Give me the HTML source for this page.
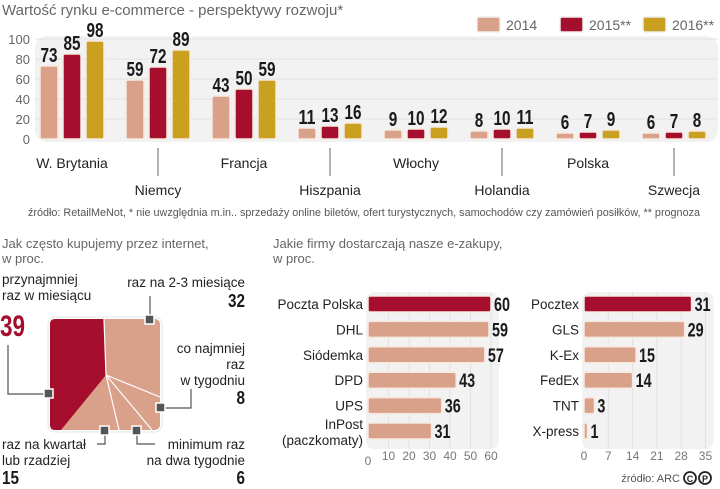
<!DOCTYPE html>
<html><head><meta charset="utf-8">
<style>
html,body{margin:0;padding:0;background:#fff;}
svg{display:block;}
text{font-family:"Liberation Sans",sans-serif;}
.n{font-family:"Liberation Sans Narrow","Liberation Sans",sans-serif;font-weight:bold;fill:#1a1a1a;}
</style></head>
<body>
<svg id="c" width="720" height="489" viewBox="0 0 720 489" xmlns="http://www.w3.org/2000/svg">
<g><text x="2" y="15" font-size="15" fill="#666">Wartość rynku e-commerce - perspektywy rozwoju*</text></g>
<rect x="35" y="36" width="683" height="106" rx="12" fill="#f2f2f2"/>
<g id="topchart"></g>
<g id="legend"></g>
<text x="28" y="216" font-size="11" fill="#555" textLength="672" lengthAdjust="spacingAndGlyphs">źródło: RetailMeNot, * nie uwzględnia m.in.. sprzedaży online biletów, ofert turystycznych, samochodów czy zamówień posiłków, ** prognoza</text>

<text x="2" y="248" font-size="13" fill="#666">Jak często kupujemy przez internet,</text>
<text x="2" y="263" font-size="13" fill="#666">w proc.</text>
<g id="pie">
<rect x="48" y="317" width="114" height="115" rx="7" fill="#fff" stroke="#e6e6e6"/>
<rect x="50" y="319" width="110" height="111" rx="5" fill="#d9a08a"/>
<path d="M55,319 L104,319 L106,375 L61,430 L55,430 Q50,430 50,425 L50,324 Q50,319 55,319Z" fill="#a50f2d"/>
<line x1="104" y1="319" x2="106" y2="375" stroke="#fff" stroke-width="1.2"/>
<line x1="106" y1="375" x2="160" y2="397" stroke="#fff" stroke-width="1.2"/>
<line x1="106" y1="375" x2="152" y2="430" stroke="#fff" stroke-width="1.2"/>
<line x1="106" y1="375" x2="119" y2="430" stroke="#fff" stroke-width="1.2"/>
<g stroke="#555" fill="none" stroke-width="1.2">
<polyline points="150,320 150,296"/>
<polyline points="47,394 8,394 8,345"/>
<polyline points="161,408 191,408 191,389"/>
<polyline points="105,431 105,444 97,444"/>
<polyline points="137,431 137,444 155,444"/>
</g>
<g fill="#555" stroke="#fff" stroke-width="1.5">
<rect x="145" y="315" width="9" height="9"/>
<rect x="44" y="389" width="9" height="9"/>
<rect x="156" y="403" width="9" height="9"/>
<rect x="100" y="426" width="9" height="9"/>
<rect x="132" y="426" width="9" height="9"/>
</g>
<g font-size="13.5" fill="#222">
<text x="2" y="284">przynajmniej</text>
<text x="2" y="300">raz w miesiącu</text>
<text x="0" y="336" class="n" font-size="30" textLength="25" lengthAdjust="spacingAndGlyphs" style="fill:#a50f2d">39</text>
<text x="245" y="287" text-anchor="end">raz na 2-3 miesiące</text>
<text x="245" y="307" text-anchor="end" class="n" font-size="18" textLength="17" lengthAdjust="spacingAndGlyphs">32</text>
<text x="245" y="353" text-anchor="end">co najmniej</text>
<text x="245" y="369" text-anchor="end">raz</text>
<text x="245" y="385" text-anchor="end">w tygodniu</text>
<text x="245" y="404" text-anchor="end" class="n" font-size="18" textLength="8.5" lengthAdjust="spacingAndGlyphs">8</text>
<text x="2" y="449">raz na kwartał</text>
<text x="2" y="465">lub rzadziej</text>
<text x="2" y="484" class="n" font-size="18" textLength="17" lengthAdjust="spacingAndGlyphs">15</text>
<text x="245" y="449" text-anchor="end">minimum raz</text>
<text x="245" y="465" text-anchor="end">na dwa tygodnie</text>
<text x="245" y="484" text-anchor="end" class="n" font-size="18" textLength="8.5" lengthAdjust="spacingAndGlyphs">6</text>
</g>
</g>

<text x="273" y="248" font-size="13" fill="#666">Jakie firmy dostarczają nasze e-zakupy,</text>
<text x="273" y="263" font-size="13" fill="#666">w proc.</text>
<g id="bl"></g>
<g id="br"></g>
<text x="680" y="482" font-size="11" fill="#555" text-anchor="end">źródło: ARC</text>
<g stroke="#222" stroke-width="1.8" fill="none">
<circle cx="690" cy="478" r="6"/><circle cx="705" cy="478" r="6"/>
</g>
<text x="690" y="482" font-size="9" font-weight="bold" text-anchor="middle" fill="#222">C</text>
<text x="705" y="482" font-size="9" font-weight="bold" text-anchor="middle" fill="#222">P</text>
</svg>
<script>
const countries=["W. Brytania","Niemcy","Francja","Hiszpania","Włochy","Holandia","Polska","Szwecja"];
const v2014=[73,59,43,11,9,8,6,6];
const v2015=[85,72,50,13,10,10,7,7];
const v2016=[98,89,59,16,12,11,9,8];
const years=["2014","2015**","2016**"];
const yTicks=[0,20,40,60,80,100];
const firmsL=["Poczta Polska","DHL","Siódemka","DPD","UPS","InPost"];
const valsL=[60,59,57,43,36,31];
const ticksL=[0,10,20,30,40,50,60];
const firmsR=["Pocztex","GLS","K-Ex","FedEx","TNT","X-press"];
const valsR=[31,29,15,14,3,1];
const ticksR=[0,7,14,21,28,35];

const NS="http://www.w3.org/2000/svg";
const cols=["#d9a08a","#a50f2d","#c9a020"];
function mk(p,tag,a,txt){const e=document.createElementNS(NS,tag);for(const k in a)e.setAttribute(k,a[k]);if(txt!==undefined)e.textContent=txt;p.appendChild(e);return e;}
const topG=document.getElementById('topchart');
const yS=v=>139-v*1.0;
const gx=i=>72+i*86;
yTicks.forEach(t=>{
  if(t>0){const l=mk(topG,'line',{x1:35,x2:718,y1:yS(t),y2:yS(t),stroke:'#e2e2e2','stroke-width':1});
  
  }
  const tx=mk(topG,'text',{x:30,y:yS(t)+5,'font-size':13,fill:'#666','text-anchor':'end'},t);
  
  
});
const series=[v2014,v2015,v2016];
countries.forEach((c,i)=>{
  series.forEach((s,k)=>{
    const x=gx(i)-32+k*23, h=Math.max(yS(0)-yS(s[i]),3);
    const r=mk(topG,'rect',{x:x,y:yS(0)-h,width:18,height:h,rx:2,fill:cols[k],stroke:'#f6e9e0','stroke-width':1.5});
    
    
    const t=mk(topG,'text',{x:x+9,y:yS(0)-h-4,'font-size':20,'text-anchor':'middle',class:'n',textLength:String(s[i]).length*8.5,lengthAdjust:'spacingAndGlyphs'},s[i]);
    
    
  });
  const odd=i%2===1;
  if(odd){const l=mk(topG,'line',{x1:gx(i),x2:gx(i),y1:148,y2:176,stroke:'#666','stroke-width':1});
  
  }
  const t=mk(topG,'text',{x:gx(i),y:odd?195:168,'font-size':14,fill:'#222','text-anchor':'middle'},c);
  
  
});
const lg=document.getElementById('legend');
const lx=[477,560,643];
years.forEach((yr,k)=>{
  const r=mk(lg,'rect',{x:lx[k],y:17,width:23,height:15,rx:2,fill:cols[k],stroke:'#eee','stroke-width':1.5});
  
  
  const t=mk(lg,'text',{x:lx[k]+29,y:30,'font-size':14,fill:'#666'},yr);
  
  
});

function hbar(gid,firms,vals,ticks,x0,scale,labX,maxT,extra){
  const g=document.getElementById(gid);
  const sx=v=>x0+v*scale;
  const bg=mk(g,'rect',{x:x0-2,y:292,width:sx(maxT)-x0+10,height:157,rx:8,fill:'#f2f2f2'});
  
  
  ticks.forEach((t,i)=>{
    if(t>0){const l=mk(g,'line',{x1:sx(t),x2:sx(t),y1:292,y2:449,stroke:'#e2e2e2'});
    
    }
    const tx=mk(g,'text',{x:sx(t),y:(t===0&&gid==='bl')?465:460,'font-size':12,fill:'#777','text-anchor':'middle'},t);
    
    
  });
  firms.forEach((f,i)=>{
    const cy=304+i*25.4, w=Math.max(sx(vals[i])-x0,3);
    const r=mk(g,'rect',{x:x0,y:cy-8,width:w,height:16,rx:2,fill:i===0?'#a50f2d':'#d9a08a',stroke:'#f6e9e0','stroke-width':1.5});
    
    
    const v=mk(g,'text',{x:x0+w+3,y:cy+7,'font-size':19,class:'n',textLength:String(vals[i]).length*8,lengthAdjust:'spacingAndGlyphs'},vals[i]);
    
    
    if(extra&&i===5){
      const a=mk(g,'text',{x:labX,y:cy-2,'font-size':13.5,fill:'#222','text-anchor':'end'},f);
      
      
      const b=mk(g,'text',{x:labX,y:cy+14,'font-size':13.5,fill:'#222','text-anchor':'end'},'(paczkomaty)');
      
      
    } else {
      const a=mk(g,'text',{x:labX,y:cy+5,'font-size':13.5,fill:'#222','text-anchor':'end'},f);
      
      
    }
  });
}
hbar('bl',firmsL,valsL,ticksL,368,2.05,363,60,true);
hbar('br',firmsR,valsR,ticksR,584,3.47,579,35,false);
</script>
</body></html>
